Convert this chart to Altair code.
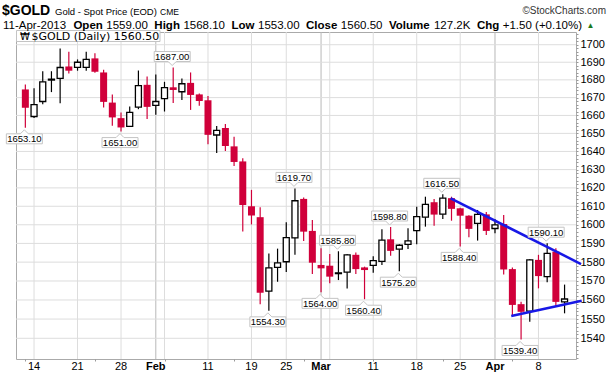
import altair as alt
import pandas as pd

# ---------------- data ----------------
day_index = list(range(-1, 62))
opens = [1674.6, 1659.4, 1667.8, 1679.9, 1680.8, 1687.6, 1687.1, 1687.1, 1692.2, 1684.2,
         1667.2, 1658.5, 1653.9, 1664.6, 1677.2, 1665.6, 1669.4, 1675.8, 1673.3, 1678.3,
         1671.8, 1668.5, 1649.1, 1653.0, 1642.8, 1634.5, 1610.0, 1604.1, 1564.7, 1577.2,
         1580.2, 1593.0, 1614.0, 1596.7, 1578.5, 1578.1, 1573.9, 1574.7, 1583.9, 1577.2,
         1578.3, 1580.4, 1592.2, 1586.9, 1589.5, 1596.9, 1604.1, 1612.2, 1605.7, 1614.4,
         1608.9, 1604.9, 1600.8, 1605.6, 1598.0, 1600.4, 1576.3, 1557.8, 1554.2, 1581.2,
         1572.3, 1585.6, 1559.0]
highs = [1677.4, 1675.2, 1684.9, 1684.9, 1697.9, 1696.0, 1691.6, 1696.0, 1695.1, 1685.7,
         1671.8, 1661.7, 1665.0, 1685.3, 1681.9, 1683.0, 1678.9, 1687.0, 1680.8, 1684.2,
         1672.3, 1670.9, 1654.1, 1655.2, 1648.1, 1636.2, 1618.9, 1609.5, 1584.6, 1587.2,
         1601.4, 1619.7, 1614.7, 1602.6, 1587.4, 1584.4, 1585.8, 1584.4, 1585.1, 1577.6,
         1583.1, 1597.6, 1598.8, 1589.5, 1598.1, 1609.8, 1615.2, 1614.0, 1616.5, 1615.2,
         1609.2, 1605.2, 1608.0, 1606.9, 1603.0, 1605.3, 1577.2, 1559.1, 1581.5, 1583.9,
         1590.1, 1587.4, 1568.1]
lows = [1653.1, 1658.6, 1666.3, 1673.1, 1666.8, 1683.6, 1685.2, 1685.2, 1684.0, 1664.4,
        1654.3, 1651.0, 1653.5, 1663.5, 1658.0, 1660.4, 1662.2, 1667.0, 1668.7, 1663.1,
        1665.4, 1644.0, 1639.1, 1640.2, 1632.0, 1596.4, 1600.2, 1557.7, 1554.3, 1569.6,
        1574.7, 1583.9, 1591.3, 1573.7, 1564.0, 1568.8, 1570.5, 1566.1, 1573.7, 1560.4,
        1574.4, 1578.5, 1583.4, 1575.2, 1587.0, 1589.5, 1599.0, 1599.5, 1603.1, 1602.2,
        1588.4, 1593.3, 1591.5, 1594.5, 1595.4, 1573.5, 1551.6, 1539.4, 1548.6, 1566.1,
        1569.3, 1556.9, 1553.0]
closes = [1664.3, 1666.1, 1678.9, 1680.4, 1687.0, 1685.2, 1690.0, 1691.6, 1684.6, 1667.6,
          1658.9, 1653.3, 1661.7, 1676.7, 1664.8, 1667.8, 1675.6, 1674.3, 1677.8, 1671.5,
          1668.1, 1649.2, 1651.7, 1643.0, 1634.2, 1610.7, 1605.0, 1563.8, 1577.0, 1579.6,
          1593.1, 1613.0, 1596.3, 1579.7, 1576.7, 1572.3, 1574.3, 1583.9, 1576.3, 1575.8,
          1580.8, 1591.8, 1586.0, 1589.0, 1591.3, 1604.4, 1611.0, 1605.5, 1614.4, 1608.6,
          1604.9, 1597.8, 1605.6, 1596.7, 1599.9, 1576.1, 1557.4, 1553.8, 1581.2, 1572.6,
          1584.7, 1559.0, 1560.5]

grid_week = [0, 5, 10, 15, 20, 25, 29, 34, 39, 44, 49, 58]
grid_month = [14, 33, 53]
day_lab_idx = [0, 5, 10, 20, 25, 29, 39, 44, 49, 58]
day_lab = ["14", "21", "28", "11", "19", "25", "11", "18", "25", "8"]
month_lab_idx = [14, 33, 53]
month_lab = ["Feb", "Mar", "Apr"]
price_grid = list(range(1540, 1701, 10))
price_ticks = list(range(1530, 1708, 2))

above_idx = [16, 30, 35, 41, 47, 59]
above_val = [1687.00, 1619.70, 1585.80, 1598.80, 1616.50, 1590.10]
below_idx = [-1, 10, 27, 33, 38, 42, 49, 56]
below_val = [1653.10, 1651.00, 1554.30, 1564.00, 1560.40, 1575.20, 1588.40, 1539.40]

upper_x = [47.9, 62.9]
upper_y = [1614.3, 1579.0]
lower_x = [54.87, 62.97]
lower_y = [1551.6, 1559.6]

# ---------------- styling ----------------
RED = "#D0003A"
BLUE = "#1818E6"
FONT = "Liberation Sans"
W, H = 560, 327
PAD_L, PAD_T = 16, 32

xscale = alt.Scale(domain=[-1.5, 61.74], nice=False, zero=False)
yscale = alt.Scale(type="log", domain=[1529.3, 1707.3], nice=False, zero=False)

df = pd.DataFrame({"idx": day_index, "o": opens, "h": highs, "l": lows, "c": closes})
df["dir"] = ["up" if c >= o else "down" for o, c in zip(opens, closes)]

one = pd.DataFrame({"a": [0]})

# axes (drawn from an invisible first layer; other layers leave axis unspecified)
axis_layer = alt.Chart(df).mark_point(opacity=0).encode(
    x=alt.X("idx:Q", scale=xscale, title=None,
            axis=alt.Axis(values=day_index, tickSize=2, tickColor="#999999", domain=False,
                          labels=False, grid=False)),
    y=alt.Y("c:Q", scale=yscale, title=None,
            axis=alt.Axis(orient="right", values=price_ticks, tickSize=2,
                          tickColor="#999999", domain=False,
                          labelExpr="(datum.value % 10 == 0 && datum.value >= 1540) ? format(datum.value, 'd') : ''",
                          labelFont=FONT, labelFontSize=11, labelColor="#000000", labelPadding=2,
                          labelOverlap=False, labelFlush=False, grid=False)),
)

X = alt.X("idx:Q", scale=xscale)

# grid
vweek = alt.Chart(pd.DataFrame({"idx": grid_week})).mark_rule(color="#dddddd", strokeWidth=1).encode(x=X)
vmonth = alt.Chart(pd.DataFrame({"idx": grid_month})).mark_rule(color="#b8b8b8", strokeWidth=1).encode(x=X)
hgrid = alt.Chart(pd.DataFrame({"p": price_grid})).mark_rule(color="#dddddd", strokeWidth=1).encode(
    y=alt.Y("p:Q", scale=yscale))

# x labels through the x scale
xlab_days = alt.Chart(pd.DataFrame({"idx": day_lab_idx, "t": day_lab})).mark_text(
    font=FONT, fontSize=11, color="#000000", baseline="middle", align="center").encode(
    x=X, y=alt.value(H + 7.5), text="t:N")
xlab_months = alt.Chart(pd.DataFrame({"idx": month_lab_idx, "t": month_lab})).mark_text(
    font=FONT, fontSize=11, fontWeight="bold", color="#000000", baseline="middle", align="center").encode(
    x=X, y=alt.value(H + 7.5), text="t:N")

wicks = alt.Chart(df).mark_rule(strokeWidth=1.2).encode(
    x=X,
    y=alt.Y("l:Q", scale=yscale),
    y2="h:Q",
    color=alt.Color("dir:N", scale=alt.Scale(domain=["up", "down"], range=["#000000", RED]), legend=None),
)
bodies_down = alt.Chart(df).transform_filter("datum.dir == 'down'").mark_bar(size=7, color=RED).encode(
    x=X, y=alt.Y("o:Q", scale=yscale), y2="c:Q")
bodies_up = alt.Chart(df).transform_filter("datum.dir == 'up'").mark_bar(
    size=6, fill="white", stroke="black", strokeWidth=1.3).encode(
    x=X, y=alt.Y("o:Q", scale=yscale), y2="c:Q")

trend = alt.Chart(pd.DataFrame({
    "idx": upper_x + lower_x, "p": upper_y + lower_y, "g": ["u", "u", "l", "l"]
})).mark_line(color=BLUE, strokeWidth=2.5, clip=False).encode(
    x=X,
    y=alt.Y("p:Q", scale=yscale),
    detail="g:N",
)

PATH_BELOW = "M-1,-0.2778L-0.2222,-0.2778L0,-0.5L0.2222,-0.2778L1,-0.2778L1,0.2778L-1,0.2778Z"
PATH_ABOVE = "M-1,-0.2778L1,-0.2778L1,0.2778L0.2222,0.2778L0,0.5L-0.2222,0.2778L-1,0.2778Z"

df_above = pd.DataFrame({"idx": above_idx, "v": above_val, "t": [f"{v:.2f}" for v in above_val]})
df_below = pd.DataFrame({"idx": below_idx, "v": below_val, "t": [f"{v:.2f}" for v in below_val]})


def callouts(d, path, off):
    box = alt.Chart(d).mark_point(shape=path, size=1296, filled=True, fill="white", stroke="#c4c4c4",
                                   strokeWidth=1, opacity=1, yOffset=off, xOffset=-1).encode(
        x=X, y=alt.Y("v:Q", scale=yscale))
    txt_ = alt.Chart(d).mark_text(font=FONT, fontSize=9.5, color="#000000", baseline="middle",
                                  yOffset=off + 0.5, xOffset=-1).encode(
        x=X, y=alt.Y("v:Q", scale=yscale), text="t:N")
    return [box, txt_]


# ---------------- header texts ----------------
REG = {"0": 556, "1": 556, "2": 556, "3": 556, "4": 556, "5": 556, "6": 556, "7": 556, "8": 556,
       "9": 556, ".": 278, "-": 333, " ": 278, "A": 667, "p": 556, "r": 333, "(": 333, ")": 333,
       "+": 584, "%": 889, "K": 667}
BOLD = {"O": 778, "p": 611, "e": 556, "n": 611, "H": 722, "i": 278, "g": 611, "h": 611, "L": 611,
        "o": 611, "w": 778, "C": 722, "l": 278, "s": 556, "V": 667, "u": 611, "m": 889, " ": 278}


def tw(s, size, bold):
    tab = BOLD if bold else REG
    return sum(tab.get(ch, 556) for ch in s) * size / 1000.0


def txt(text, x, y, size, weight="normal", color="#000000", align="left", font=FONT):
    return alt.Chart(one).mark_text(align=align, baseline="alphabetic", fontSize=size,
                                    fontWeight=weight, color=color, font=font).encode(
        x=alt.value(x - PAD_L), y=alt.value(y - PAD_T), text=alt.value(text))


headers = [
    txt("$GOLD", 2, 15, 14, "bold"),
    txt("Gold - Spot Price (EOD)", 55, 15, 9.5),
    txt("CME", 160, 15, 8.5),
    txt("\u00a9StockCharts.com", 606, 14, 10, color="#333333", align="right"),
]
row2 = [("11-Apr-2013", False), ("Open", True), ("1559.00", False), ("High", True), ("1568.10", False),
        ("Low", True), ("1553.00", False), ("Close", True), ("1560.50", False), ("Volume", True),
        ("127.2K", False), ("Chg", True), ("+1.50 (+0.10%)", False)]
FS2 = 11.5
xpos = 3.0
for s, b in row2:
    headers.append(txt(s, xpos, 29, FS2, "bold" if b else "normal"))
    gap = 3.5 if b else 6.5
    xpos += tw(s, FS2, b) + gap
headers.append(txt("\u25b2", xpos - 2, 28, 8, color="#1a7a1a"))

legend_box = alt.Chart(one).mark_rect(fill="white", stroke="#c4c4c4", strokeWidth=1).encode(
    x=alt.value(0.5), x2=alt.value(144), y=alt.value(-1.5), y2=alt.value(9.5))
legend_icon = txt("\u20a9", 20, 40, 10, font="DejaVu Sans")
legend_text = txt("$GOLD (Daily) 1560.50", 31.5, 40, 11, font="DejaVu Sans")

chart = alt.layer(
    axis_layer, vweek, vmonth, hgrid, xlab_days, xlab_months, wicks, bodies_down, bodies_up, trend,
    *callouts(df_above, PATH_ABOVE, -11), *callouts(df_below, PATH_BELOW, 11),
    legend_box, legend_icon, legend_text, *headers
).properties(
    width=W, height=H,
    padding={"left": PAD_L, "top": PAD_T, "right": 36, "bottom": 17},
    autosize=alt.AutoSizeParams(type="none"),
    background="white",
).configure_view(stroke="#aaaaaa", strokeWidth=1)

chart.save("out.html", embed_options={"renderer": "svg", "actions": False})
